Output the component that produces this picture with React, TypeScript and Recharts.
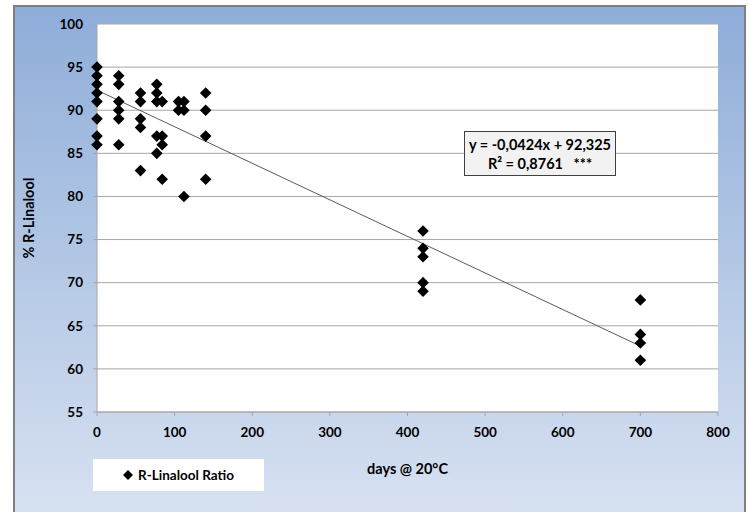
import React from "react";
import {
  ScatterChart,
  Scatter,
  XAxis,
  YAxis,
  CartesianGrid,
  ReferenceLine,
} from "recharts";

// Storage time (days @ 20°C) and measured % R-Linalool
const days = [
  0, 0, 0, 0, 0, 0, 0, 0,
  28, 28, 28, 28, 28, 28,
  56, 56, 56, 56, 56,
  77, 77, 77, 77, 77,
  84, 84, 84, 84,
  105, 105,
  112, 112, 112,
  140, 140, 140, 140,
  420, 420, 420, 420, 420,
  700, 700, 700, 700,
];
const ratio = [
  95, 94, 93, 92, 91, 89, 87, 86,
  94, 93, 91, 90, 89, 86,
  92, 91, 89, 88, 83,
  93, 92, 91, 87, 85,
  91, 87, 86, 82,
  91, 90,
  91, 90, 80,
  92, 90, 87, 82,
  76, 74, 73, 70, 69,
  68, 64, 63, 61,
];

const xTicks = [0, 100, 200, 300, 400, 500, 600, 700, 800];
const yTicks = [55, 60, 65, 70, 75, 80, 85, 90, 95, 100];

// Linear regression shown on the chart
const slope = -0.0424;
const intercept = 92.325;
const trendStart = 0;
const trendEnd = 700;

const seriesName = "R-Linalool Ratio";
const xTitle = "days @ 20°C";
const yTitle = "% R-Linalool";
const eqLine1 = "y = -0,0424x + 92,325";
const eqLine2 = "R² = 0,8761   ***";

const data = days.map((d, i) => ({ x: d, y: ratio[i] }));

const FONT = "Lato, 'Liberation Sans', sans-serif";

const Diamond = (props: any) => {
  const { cx, cy } = props;
  if (cx == null || cy == null) return null;
  const r = 5.8;
  return (
    <polygon
      points={`${cx},${cy - r} ${cx + r},${cy} ${cx},${cy + r} ${cx - r},${cy}`}
      fill="#000"
    />
  );
};

export default function App() {
  return (
    <div
      style={{
        position: "absolute",
        left: 0,
        top: 0,
        width: 749,
        height: 512,
        overflow: "hidden",
      }}
    >
      <div
        style={{
          position: "absolute",
          left: 13,
          top: 5,
          width: 733,
          height: 507,
          boxSizing: "border-box",
          borderTop: "2px solid #7f7f7f",
          borderLeft: "2px solid #7f7f7f",
          borderRight: "2px solid #7f7f7f",
          background: "linear-gradient(180deg, #8eadd9 0%, #d7e1f1 100%)",
        }}
      />
      <div style={{ position: "absolute", left: 0, top: 0 }}>
        <ScatterChart
          width={749}
          height={512}
          margin={{ top: 24, right: 31, bottom: 70, left: 37 }}
        >
          <CartesianGrid
            vertical={false}
            stroke="#a6a6a6"
            fill="#ffffff"
            fillOpacity={1}
          />
          <XAxis
            type="number"
            dataKey="x"
            domain={[0, 800]}
            ticks={xTicks}
            interval={0}
            height={30}
            stroke="#a6a6a6"
            tickSize={4}
            tickMargin={11}
            tick={{ fill: "#000", fontFamily: FONT, fontWeight: 700, fontSize: 13.5 }}
            label={{
              value: xTitle,
              position: "bottom",
              offset: 22,
              style: { fill: "#000", fontFamily: FONT, fontWeight: 700, fontSize: 14.5 },
            }}
          />
          <YAxis
            type="number"
            dataKey="y"
            domain={[55, 100]}
            ticks={yTicks}
            interval={0}
            width={60}
            stroke="#a6a6a6"
            tickSize={4}
            tickMargin={10}
            tick={{ fill: "#000", fontFamily: FONT, fontWeight: 700, fontSize: 13.5 }}
            label={{
              value: yTitle,
              angle: -90,
              position: "insideLeft",
              offset: -8,
              style: {
                fill: "#000",
                fontFamily: FONT,
                fontWeight: 700,
                fontSize: 14.5,
                textAnchor: "middle",
              },
            }}
          />
          <ReferenceLine
            segment={[
              { x: trendStart, y: intercept + slope * trendStart },
              { x: trendEnd, y: intercept + slope * trendEnd },
            ]}
            stroke="#5a5a5a"
            strokeWidth={1}
          />
          <Scatter
            name={seriesName}
            data={data}
            shape={<Diamond />}
            isAnimationActive={false}
          />
        </ScatterChart>
      </div>
      <div
        style={{
          position: "absolute",
          left: 93,
          top: 459,
          width: 171,
          height: 32,
          background: "#fff",
          display: "flex",
          alignItems: "center",
          justifyContent: "center",
          fontFamily: FONT,
          fontWeight: 700,
          fontSize: 13.5,
          color: "#000",
        }}
      >
        <svg width={10} height={10} style={{ marginRight: 5 }}>
          <polygon points="5,0 10,5 5,10 0,5" fill="#000" />
        </svg>
        {seriesName}
      </div>
      <div
        style={{
          position: "absolute",
          left: 464,
          top: 131,
          width: 152,
          height: 45,
          boxSizing: "border-box",
          border: "1.5px solid #404040",
          background: "#f2f2f2",
          fontFamily: FONT,
          fontWeight: 700,
          fontSize: 14.5,
          lineHeight: "19px",
          color: "#000",
          textAlign: "center",
          paddingTop: 3,
          whiteSpace: "pre",
        }}
      >
        <div>{eqLine1}</div>
        <div>{eqLine2}</div>
      </div>
    </div>
  );
}
